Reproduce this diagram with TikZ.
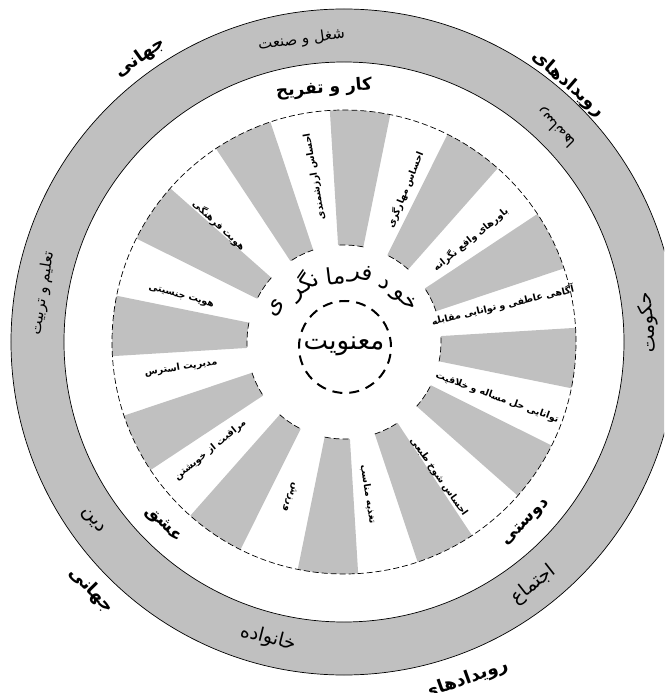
\documentclass[tikz,border=0pt]{standalone}
\usepackage{fontspec}
\usetikzlibrary{calc}
\newfontfamily\fa[Script=Arabic]{DejaVu Sans}
\TeXXeTstate=1
\newcommand{\RL}[1]{\beginR #1\endR}
\definecolor{secgray}{RGB}{192,192,192}
\tikzset{
  lab/.style={font=\fa\bfseries\fontsize{9.5}{11}\selectfont, inner sep=0pt},
  ringlab/.style={font=\fa\fontsize{15}{18}\selectfont, inner sep=0pt},
  bigring/.style={font=\fa\fontsize{19}{22}\selectfont, inner sep=0pt},
  outlab/.style={font=\fa\bfseries\fontsize{18}{22}\selectfont, inner sep=0pt},
  bandlab/.style={font=\fa\bfseries\fontsize{17}{20}\selectfont, inner sep=0pt},
  centlab/.style={font=\fa\fontsize{26}{30}\selectfont, inner sep=0pt},
  arclab/.style={font=\fa\fontsize{23}{27}\selectfont, inner sep=0pt},
  secline/.style={line width=0.7pt, dash pattern=on 6pt off 3pt},
}
\begin{document}
\begin{tikzpicture}[x=1pt,y=1pt]
\useasboundingbox (-344,-351) rectangle (320,342);
\clip (-344,-351) rectangle (320,342);
\coordinate (O) at (0,0);
\coordinate (C) at (0,-5);
% outer ring
\fill[secgray, even odd rule] (O) circle (333) (O) circle (280);
\draw[line width=0.7pt] (O) circle (333);
\draw[line width=0.7pt] (O) circle (280);
% sectors
\foreach \a in {-4,26,...,326} {
  \fill[secgray] ({\a-7.5}:97) arc[start angle={\a-7.5}, end angle={\a+7.5}, radius=97]
    -- ({\a+7.5}:232) arc[start angle={\a+7.5}, end angle={\a-7.5}, radius=232] -- cycle;
  \draw[secline] ({\a-7.5}:97) arc[start angle={\a-7.5}, end angle={\a+7.5}, radius=97];
}
\draw[secline] (O) circle (232);
% centre circle
\draw[line width=2pt, dash pattern=on 10pt off 7pt] (1,-5) circle (46);
\node[centlab] (ma) at (0,-4) {\RL{معنویت}};
% self-direction curved title (split only after non-joining letters)
\node[arclab, rotate=-50] (kh) at ($(C)+(38:76)$) {\RL{خو}};
\node[arclab, rotate=-33] (da) at ($(C)+(57:74)$) {\RL{د}};
\node[arclab, rotate=-13] (fr) at ($(C)+(77:74)$) {\RL{فر}};
\node[arclab, rotate=7] (mm) at ($(C)+(97:72)$) {\RL{ما}};
\node[arclab, rotate=33] (ng) at ($(C)+(123:74)$) {\RL{نگر}};
\node[arclab, rotate=60] (ye) at ($(C)+(150:78)$) {\RL{ی}};
% sector labels
\node[lab, rotate=100] (s1) at (100:168) {\RL{احساس ارزشمندی}};
\node[lab, rotate=68] (s2) at (68:164) {\RL{احساس مهارگری}};
\node[lab, rotate=39] (s3) at (39:163) {\RL{باورهای واقع نگرانه}};
\node[lab, rotate=13] (s4) at (13:163) {\RL{آگاهی عاطفی و توانایی مقابله}};
\node[lab, rotate=-20] (s5) at (-20:163) {\RL{توانایی حل مساله و خلاقیت}};
\node[lab, rotate=-55] (s6) at (-55:165) {\RL{احساس شوخ طبعی}};
\node[lab, rotate=-81] (s7) at (-81:154) {\RL{تغذیه مناسب}};
\node[lab, rotate=-109] (s8) at (-109:164) {\RL{ورزش}};
\node[lab, rotate=39] (s9) at (-141:172) {\RL{مراقبت از خویشتن}};
\node[lab, rotate=9] (s10) at (-171:165) {\RL{مدیریت استرس}};
\node[lab, rotate=-15] (s11) at (164.5:169) {\RL{هویت جنسیتی}};
\node[lab, rotate=-43] (s12) at (137:171) {\RL{هویت فرهنگی}};
% band labels (life tasks)
\node[bandlab, rotate=4.5] (b1) at (94.5:254) {\RL{کار و تفریح}};
\node[bandlab, rotate=45] (b2) at (-44.7:257) {\RL{دوستی}};
\node[bandlab, rotate=-45] (b3) at (-134.7:257) {\RL{عشق}};
% ring labels (life forces)
\node[ringlab, rotate=8] (r1) at (98:305) {\RL{شغل و صنعت}};
\node[ringlab, rotate=135] (r2) at (45.4:302) {\RL{رسانه^^^^200cها}};
\node[bigring, rotate=94] (r3) at (3.6:305) {\RL{حکومت}};
\node[bigring, rotate=38] (r4) at (-52:308) {\RL{اجتماع}};
\node[bigring, rotate=-14.5] (r5) at (-104.4:306) {\RL{خانواده}};
\node[bigring, rotate=-54.5] (r6) at (-144.5:309) {\RL{دین}};
\node[ringlab, rotate=81] (r7) at (170.8:305) {\RL{تعلیم و تربیت}};
% global events
\node[outlab, rotate=-41] (g1) at (49:342) {\RL{رویدادهای}};
\node[outlab, rotate=35.6] (g2) at (125.6:350) {\RL{جهانی}};
\node[outlab, rotate=-45.5] (g3) at (-135.5:354) {\RL{جهانی}};
\node[outlab, rotate=19.7] (g4) at (-70.3:359) {\RL{رویدادهای}};
\end{tikzpicture}
\end{document}
